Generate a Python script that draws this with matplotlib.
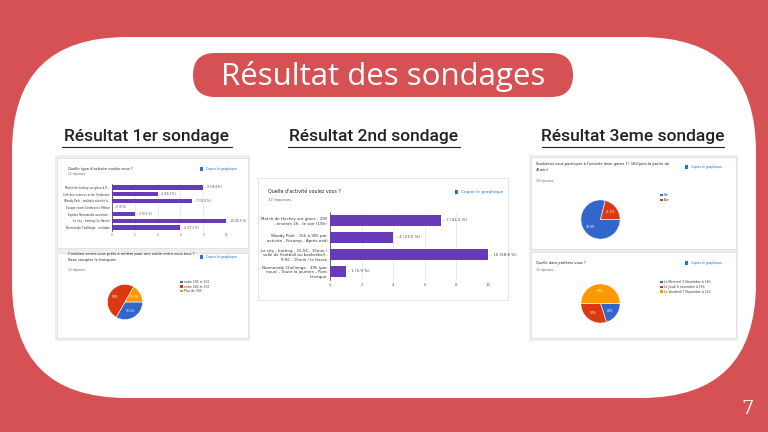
import matplotlib.pyplot as plt
from matplotlib.patches import FancyBboxPatch, Rectangle

W, H = 768, 432

# ---- data ----
s1_question = "Quelle type d'activité voulez vous ?"
s1_responses = "22 réponses"
s1_labels = [
    "Match de hockey sur glace à R...",
    "Cité des sciences et de l'industrie",
    "Woody Park - multiple activité à...",
    "Escape room Conférence Métier",
    "Explore Normandie aventure -",
    "Le city - karting (Le Havre)",
    "Normandie Challenge - multiple",
]
s1_counts = [8, 4, 7, 0, 2, 10, 6]
s1_pcts = ["36.4 %", "18.2 %", "31.8 %", "0 %", "9.1 %", "45.5 %", "27.3 %"]

s1b_question = "Combien seriez-vous prêts à mettre pour une sortie entre vous tous ?\nSans compter le transport"
s1b_responses = "12 réponses"
s1b_labels = ["entre 10€ et 20€", "entre 20€ et 30€", "Plus de 30€"]
s1b_counts = [4, 6, 2]

s2_question = "Quelle d'activité voulez vous ?"
s2_responses = "17 réponses"
s2_labels = [
    "Match de Hockey sur glace - 29€\n- environ 2h - le soir (19h)",
    "Woody Park - 15€ à 30€ par\nactivité - Fécamp - Après-midi",
    "Le city - karting - 15,5€ - 15min /\nsalle de Football ou basketball -\n9,9€ - 15min / le Havre",
    "Normandie Challenge - 39€ (par\nnous) - Toute la journée - Pont\nl'évêque",
]
s2_counts = [7, 4, 10, 1]
s2_pcts = ["41.2 %", "23.5 %", "58.8 %", "5.9 %"]

s3a_question = "Souhaitez vous participer à l'activité laser game ? ( 16€/pers la partie de\n45min)"
s3a_responses = "19 réponses"
s3a_labels = ["Oui", "Non"]
s3a_counts = [15, 4]

s3b_question = "Quelle date préférez vous ?"
s3b_responses = "10 réponses"
s3b_labels = ["Le Mercredi 5 Novembre à 16h", "Le Jeudi 6 novembre à 15h",
              "Le Vendredi 7 Novembre à 14h"]
s3b_counts = [2, 3, 5]

x_ticks = [0, 2, 4, 6, 8, 10]

RED = "#d65153"
PURPLE = "#673ab7"
PIE_COLORS = ["#3366cc", "#dc3912", "#ff9900"]
GREY_TXT = "#5f6368"

fig = plt.figure(figsize=(W / 100, H / 100), dpi=100)
fig.patch.set_facecolor(RED)

main = fig.add_axes([0, 0, 1, 1])
main.set_xlim(0, W)
main.set_ylim(H, 0)
main.axis("off")

# white rounded panel
main.add_patch(FancyBboxPatch((12, 37), 744, 361, boxstyle="round,pad=0,rounding_size=115",
                              fc="white", ec="none"))
# title pill
main.add_patch(FancyBboxPatch((193, 53), 380, 44, boxstyle="round,pad=0,rounding_size=22",
                              fc=RED, ec="none"))
main.text(383, 76, "Résultat des sondages", color="white", fontsize=22.5,
          family="Open Sans", ha="center", va="center")

# section headings (underlined)
for cx, txt, w in [(147, "Résultat 1er sondage", 170), (374, "Résultat 2nd sondage", 172),
                   (633, "Résultat 3eme sondage", 182)]:
    main.text(cx, 137, txt, fontsize=12.5, family="Roboto", weight="medium",
              color="#222222", ha="center", va="center")
    main.plot([cx - w / 2, cx + w / 2], [147, 147], color="#222222", lw=0.8)

main.text(748, 409, "7", color="white", fontsize=14, family="DejaVu Serif",
          ha="center", va="center")

# card backgrounds
for x0, y0, x1, y1 in [(55, 155, 250, 341), (529, 155, 738, 341)]:
    main.add_patch(Rectangle((x0, y0), x1 - x0, y1 - y0, fc="#eeeeee", ec="none"))
cards = [(57, 158, 248, 248), (57, 253, 248, 338), (258, 178, 508, 300),
         (531, 157, 736, 249), (531, 252, 736, 338)]
for x0, y0, x1, y1 in cards:
    main.add_patch(Rectangle((x0, y0), x1 - x0, y1 - y0, fc="white", ec="#dadce0", lw=0.5))


def card_header(x, y, question, responses, copy_x, fs, line_h):
    n = question.count("\n") + 1
    main.text(x, y, question, fontsize=fs, color="#202124", va="center", linespacing=1.6)
    main.text(x, y + n * line_h + 1, responses, fontsize=fs * 0.8, color=GREY_TXT, va="center")
    main.add_patch(Rectangle((copy_x, y - 2), 3, 4, fc="#1a73e8", ec="none"))
    main.text(copy_x + 6, y, "Copier le graphique", fontsize=fs * 0.9, color="#1a73e8", va="center")


def px_axes(x0, y0, x1, y1):
    return fig.add_axes([x0 / W, 1 - y1 / H, (x1 - x0) / W, (y1 - y0) / H])


def bar_chart(box, labels, counts, pcts, fs, pad, clip_x=None):
    ax = px_axes(*box)
    y = list(range(len(counts)))
    ax.barh(y, counts, height=0.66, color=PURPLE, zorder=3)
    ax.set_xlim(0, 10)
    ax.set_ylim(len(counts) - 0.5, -0.5)
    ax.set_xticks(x_ticks)
    ax.set_yticks(y)
    ax.set_yticklabels(labels, fontsize=fs, color="#333333", linespacing=1.3)
    ax.tick_params(axis="x", labelsize=fs, colors=GREY_TXT, length=0, pad=pad)
    ax.tick_params(axis="y", length=0, pad=pad)
    ax.grid(axis="x", color="#e3e3e3", lw=0.5, zorder=0)
    for s in ["top", "right", "bottom"]:
        ax.spines[s].set_visible(False)
    ax.spines["left"].set_color("#333333")
    ax.spines["left"].set_linewidth(0.5)
    ax.set_facecolor("none")
    for i, (c, p) in enumerate(zip(counts, pcts)):
        t = ax.text(c + 0.15, i, f"– {c} ({p})", va="center", fontsize=fs, color="#444444",
                    clip_on=False)
        if clip_x is not None:
            t.set_clip_path(clip_x)
    return ax


def pie_chart(box, counts, fs):
    ax = px_axes(*box)

    def fmt(p):
        s = f"{p:.1f}%"
        return s.replace(".0%", "%")

    ax.pie(counts, colors=PIE_COLORS[:len(counts)], startangle=0, counterclock=False,
           autopct=fmt, pctdistance=0.62,
           textprops={"fontsize": fs, "color": "white"},
           wedgeprops={"edgecolor": "white", "linewidth": 0.4})
    ax.set_aspect("equal")
    return ax


def legend(x, y, labels, fs, step):
    for i, lab in enumerate(labels):
        main.add_patch(Rectangle((x, y + i * step - 1.3), 2.6, 2.6, fc=PIE_COLORS[i], ec="none"))
        main.text(x + 4, y + i * step, lab, fontsize=fs, color="#333333", va="center")


# survey 1
card_header(68, 169, s1_question, s1_responses, 200, 2.6, 4.5)
bar_chart((112, 184, 226, 231), s1_labels, s1_counts, s1_pcts, 2.0, 1.5)
card_header(68, 257, s1b_question, s1b_responses, 200, 2.6, 6)
pie_chart((103, 280, 147, 324), s1b_counts, 2.2)
legend(180, 282, s1b_labels, 2.2, 4.5)

# survey 2
card_header(268, 192, s2_question, s2_responses, 455, 3.4, 7)
mid_card = Rectangle((258, 178), 250, 122, transform=main.transData)
bar_chart((330, 212, 488, 280), s2_labels, s2_counts, s2_pcts, 2.9, 2, clip_x=mid_card)

# survey 3
card_header(536, 167, s3a_question, s3a_responses, 685, 2.6, 6.5)
pie_chart((576, 195, 625, 244), s3a_counts, 2.2)
legend(660, 195, s3a_labels, 2.2, 4.8)
card_header(536, 263, s3b_question, s3b_responses, 685, 2.6, 6.5)
pie_chart((576, 279, 625, 328), s3b_counts, 2.2)
legend(660, 282, s3b_labels, 2.2, 4.8)

fig.savefig("out.png", dpi=100, facecolor=fig.get_facecolor())
